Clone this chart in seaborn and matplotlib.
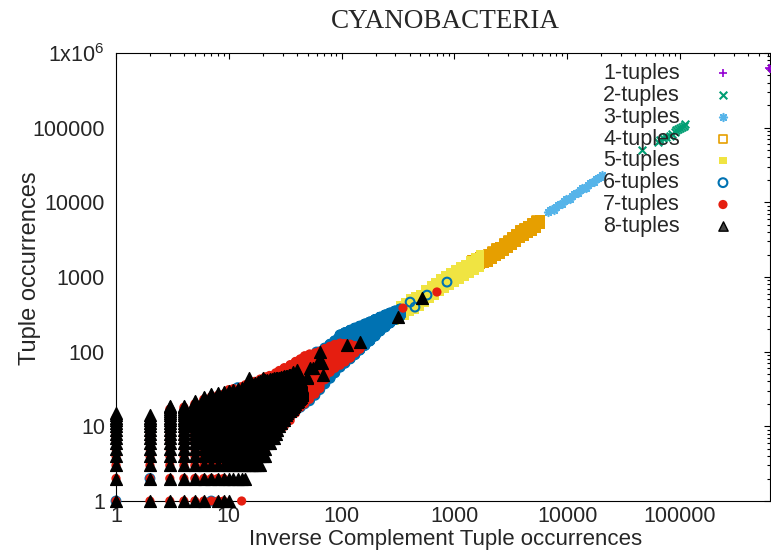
import numpy as np
import pandas as pd
import seaborn as sns
import matplotlib.pyplot as plt
from matplotlib.markers import MarkerStyle
from matplotlib.ticker import FixedLocator, FixedFormatter, LogLocator, NullFormatter

# sparse series: one value per point
k1_x = [615000, 625000]
k1_y = [626000, 615000]

k2_x = [46000, 63800, 66500, 70700, 75200, 81500, 84700, 90300, 92200, 96000,
        100000, 104000, 108000, 110700]
k2_y = [50000, 64000, 68000, 72300, 74500, 76900, 81800, 87000, 92500, 95500,
        98500, 101600, 104800, 111500]

k3_x = [6760, 7100, 7330, 7650, 7960, 8300, 8640, 9000, 9370, 9750, 10170, 10600,
        11040, 11500, 11970, 12450, 12980, 13500, 14090, 14700, 15280, 15900,
        16590, 17300, 17990, 18700, 19530, 20360]
k3_y = [7390, 7900, 8110, 8000, 8630, 9300, 9460, 9500, 10380, 11000, 11040, 11200,
        12110, 13000, 13280, 13300, 14560, 15600, 15490, 15800, 16980, 18200,
        18620, 18700, 20450, 21500, 21730, 23100]

# dense series: integer counts, given per x column as lowest / highest y
k4_x = [1432, 1553, 1690, 1830, 1985, 2154, 2338, 2540, 2754, 2986, 3243, 3516,
        3820, 4140, 4490, 4876, 5290, 5740]
k4_lo = [1318, 1401, 1483, 1538, 1584, 1737, 1906, 2018, 2224, 2439, 2677, 2936,
         3320, 3531, 3872, 4120, 4518, 5000]
k4_hi = [1683, 1789, 1894, 1964, 2023, 2218, 2434, 2576, 2840, 3114, 3418, 3749,
         4240, 4509, 4944, 5261, 5769, 5900]

k5_x = [300, 330, 365, 405, 447, 495, 549, 610, 673, 745, 826, 915, 1012, 1120, 1242,
        1375, 1523, 1690]
k5_lo = [255, 273, 300, 339, 360, 394, 447, 506, 555, 628, 689, 755, 829, 909, 992,
         1094, 1200, 1317]
k5_hi = [330, 420, 461, 522, 554, 606, 688, 779, 854, 966, 1060, 1162, 1275, 1399, 1526,
         1683, 1846, 2026]

k6_x = [19, 21, 23, 26, 28, 31, 35, 39, 43, 47, 52, 58, 64, 71, 79, 87, 97, 107,
        119, 131, 145, 161, 178, 198, 219, 243, 268, 297, 330]
k6_lo = [7, 7, 8, 10, 11, 12, 14, 16, 18, 20, 22, 26, 31, 37, 44, 52, 62, 70, 80,
         91, 105, 121, 139, 162, 189, 214, 242, 269, 300]
k6_hi = [34, 37, 40, 44, 49, 53, 58, 64, 70, 77, 85, 92, 99, 112, 126, 140, 168,
         180, 194, 207, 220, 235, 250, 270, 290, 310, 329, 350, 372]
k6_extra_x = [1, 2, 7, 12, 60, 253, 405, 447, 572, 860]
k6_extra_y = [1, 2, 1, 33, 99, 265, 461, 395, 572, 855]

k7_x = [1, 2, 3, 4, 5, 6, 7, 8, 9, 10, 11, 13, 14, 15, 17, 19, 21, 23, 26, 28, 31,
        35, 39, 43, 47, 52, 58, 64, 71, 79, 87, 97, 107, 119, 131, 145]
k7_lo = [1, 1, 1, 1, 1, 1, 1, 1, 1, 3, 3, 3, 3, 3, 4, 4, 5, 7, 8, 9, 10, 12, 15,
         18, 20, 23, 27, 32, 42, 53, 60, 66, 73, 82, 96, 108]
k7_hi = [13, 12, 17, 18, 20, 23, 25, 26, 27, 31, 32, 34, 36, 37, 40, 43, 46, 48, 52,
         56, 61, 67, 74, 80, 88, 93, 96, 101, 110, 118, 125, 130, 128, 126, 120, 115]
k7_extra_x = [13, 350, 700]
k7_extra_y = [1, 383, 630]

k8_x = list(range(1, 46))
k8_lo = [1, 1, 1, 1, 1, 1, 2, 1, 1, 1, 2, 2, 2, 2, 3, 3, 3, 3, 3, 4,
         4, 6, 6, 7, 7, 8, 9, 10, 11, 12, 13, 14, 15, 16, 16, 17, 18, 19, 20, 21,
         22, 23, 24, 25, 26]
k8_hi = [15, 14, 19, 19, 22, 25, 27, 28, 29, 30, 31, 32, 33, 34, 36, 37, 38, 39, 40, 41,
         42, 42, 43, 43, 44, 44, 45, 45, 46, 46, 47, 47, 47, 48, 48, 48, 49, 50, 50, 50,
         50, 48, 45, 40, 34]
k8_extra_x = [15, 20, 22, 31, 37, 40, 49, 49, 52, 56, 62, 64, 64, 67, 68, 112, 145, 316, 516]
k8_extra_y = [44, 44, 7, 12, 53, 57, 46, 44, 60, 60, 73, 99, 77, 70, 49, 122, 134, 290, 522]

x_ticks = [1, 10, 100, 1000, 10000, 100000]
x_tick_labels = ['1', '10', '100', '1000', '10000', '100000']
y_ticks = [1, 10, 100, 1000, 10000, 100000, 1000000]
y_tick_labels = ['1', '10', '100', '1000', '10000', '100000', '1x10$^{6}$']


def columns(xs, lo, hi, extra_x=(), extra_y=()):
    px, py = [], []
    for x, a, b in zip(xs, lo, hi):
        ys = np.arange(a, b + 1)
        px.extend([x] * len(ys))
        py.extend(ys)
    px.extend(extra_x)
    py.extend(extra_y)
    return px, py


series = {
    '1-tuples': (k1_x, k1_y),
    '2-tuples': (k2_x, k2_y),
    '3-tuples': (k3_x, k3_y),
    '4-tuples': columns(k4_x, k4_lo, k4_hi),
    '5-tuples': columns(k5_x, k5_lo, k5_hi),
    '6-tuples': columns(k6_x, k6_lo, k6_hi, k6_extra_x, k6_extra_y),
    '7-tuples': columns(k7_x, k7_lo, k7_hi, k7_extra_x, k7_extra_y),
    '8-tuples': columns(k8_x, k8_lo, k8_hi, k8_extra_x, k8_extra_y),
}
df = pd.concat([pd.DataFrame({'inverse': x, 'occ': y, 'tuple': name})
                for name, (x, y) in series.items()], ignore_index=True)

styles = {
    '1-tuples': dict(marker='+', s=40, color='#9400d3', linewidth=1.2),
    '2-tuples': dict(marker='x', s=30, color='#009e73', linewidth=1.5),
    '3-tuples': dict(marker=MarkerStyle((8, 2, 0)), s=30, color='#56b4e9', linewidth=1.2),
    '4-tuples': dict(marker='s', s=28, facecolor='none', edgecolor='#e69f00', linewidth=1.2),
    '5-tuples': dict(marker='s', s=28, color='#f0e442', edgecolor='none'),
    '6-tuples': dict(marker='o', s=40, facecolor='none', edgecolor='#0072b2', linewidth=1.5),
    '7-tuples': dict(marker='o', s=44, color='#e51e10', edgecolor='none'),
    '8-tuples': dict(marker='^', s=72, facecolor='black', edgecolor='black', linewidth=1.0),
}

sns.set_style('white')
plt.rcParams['font.family'] = ['Liberation Sans', 'DejaVu Sans']
plt.rcParams['mathtext.default'] = 'regular'

fig = plt.figure(figsize=(7.71, 5.52), dpi=100)
ax = fig.add_axes([116 / 771, 51 / 552, 654 / 771, 448 / 552])

for i, (name, kw) in enumerate(styles.items()):
    sns.scatterplot(data=df[df['tuple'] == name], x='inverse', y='occ', ax=ax,
                    label=name, clip_on=False, zorder=3 + i, **kw)

ax.set_xscale('log')
ax.set_yscale('log')
ax.set_xlim(1, 6.28e5)
ax.set_ylim(1, 1e6)
ax.xaxis.set_major_locator(FixedLocator(x_ticks))
ax.xaxis.set_major_formatter(FixedFormatter(x_tick_labels))
ax.yaxis.set_major_locator(FixedLocator(y_ticks))
ax.yaxis.set_major_formatter(FixedFormatter(y_tick_labels))
for axis in (ax.xaxis, ax.yaxis):
    axis.set_minor_locator(LogLocator(base=10, subs=np.arange(2, 10), numticks=30))
    axis.set_minor_formatter(NullFormatter())
ax.tick_params(which='both', direction='in', top=True, right=True, color='black', width=0.8)
ax.tick_params(which='major', length=4.5, labelsize=15.5)
ax.tick_params(which='minor', length=2.2)
ax.tick_params(axis='x', pad=3.5)
ax.tick_params(axis='y', pad=8)
for sp in ax.spines.values():
    sp.set_color('black')
    sp.set_linewidth(0.8)
ax.set_xlabel('')
ax.set_ylabel('')

fig.text(446 / 771, 1 - 540 / 552, 'Inverse Complement Tuple occurrences',
         ha='center', va='center', fontsize=16)
fig.text(30 / 771, 1 - 268 / 552, 'Tuple occurrences', rotation=90,
         ha='center', va='center', fontsize=17)
fig.text(445 / 771, 1 - 21 / 552, 'CYANOBACTERIA', ha='center', va='center',
         fontsize=19.5, family=['Liberation Serif', 'DejaVu Serif'])

leg = ax.legend(loc='upper right', bbox_to_anchor=(744.5 / 771, 1 - 63 / 552),
                bbox_transform=fig.transFigure, frameon=False, markerfirst=False,
                handlelength=2.0, handletextpad=1.0, labelspacing=0.04, borderpad=0,
                borderaxespad=0, fontsize=15.5, scatterpoints=1)
leg.legend_handles[7].set_facecolor('#444444')
leg.legend_handles[7].set_sizes([45])

fig.savefig('out.png', dpi=100)
